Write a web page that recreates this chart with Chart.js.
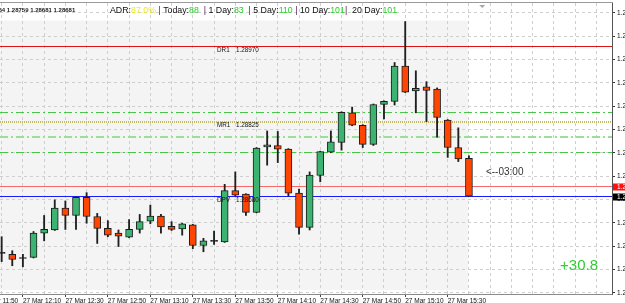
<!DOCTYPE html>
<html>
<head>
<meta charset="utf-8">
<title>EURUSD M5</title>
<script src="https://cdn.jsdelivr.net/npm/chart.js@4.4.1/dist/chart.umd.min.js"></script>
<style>
  html, body { margin: 0; padding: 0; background: #fff; overflow: hidden; }
  #box { width: 625px; height: 303px; }
</style>
</head>
<body>
<div id="box"><canvas id="chart" width="625" height="303"></canvas></div>
<script>
// 5 minute bars, 27 Mar
const barTimes = ['12:00','12:05','12:10','12:15','12:20','12:25','12:30','12:35','12:40','12:45',
  '12:50','12:55','13:00','13:05','13:10','13:15','13:20','13:25','13:30','13:35',
  '13:40','13:45','13:50','13:55','14:00','14:05','14:10','14:15','14:20','14:25',
  '14:30','14:35','14:40','14:45','14:50','14:55','15:00','15:05','15:10','15:15',
  '15:20','15:25','15:30','15:35','15:40'];
const opens = [1.28571,1.28569,1.28561,1.28563,1.28610,1.28616,1.28658,1.28644,1.28679,1.28642,
  1.28619,1.28610,1.28602,1.28617,1.28633,1.28643,1.28623,1.28618,1.28626,1.28586,
  1.28594,1.28593,1.28692,1.28685,1.28650,1.28776,1.28779,1.28772,1.28687,1.28621,
  1.28721,1.28766,1.28785,1.28842,1.28818,1.28781,1.28858,1.28864,1.28932,1.28884,
  1.28892,1.28888,1.28828,1.28775,1.28754];
const highs = [1.28603,1.28576,1.28569,1.28613,1.28644,1.28674,1.28672,1.28680,1.28688,1.28648,
  1.28634,1.28616,1.28636,1.28646,1.28664,1.28646,1.28632,1.28629,1.28627,1.28600,
  1.28614,1.28704,1.28728,1.28686,1.28775,1.28807,1.28806,1.28773,1.28695,1.28728,
  1.28768,1.28807,1.28844,1.28853,1.28819,1.28859,1.28865,1.28939,1.29018,1.28923,
  1.28902,1.28890,1.28829,1.28813,1.28759];
const lows = [1.28555,1.28547,1.28545,1.28562,1.28595,1.28615,1.28617,1.28617,1.28629,1.28590,
  1.28603,1.28584,1.28601,1.28610,1.28628,1.28610,1.28615,1.28606,1.28580,1.28574,
  1.28588,1.28592,1.28682,1.28644,1.28649,1.28741,1.28746,1.28682,1.28608,1.28616,
  1.28709,1.28765,1.28770,1.28817,1.28775,1.28779,1.28830,1.28857,1.28881,1.28842,
  1.28825,1.28795,1.28756,1.28748,1.28681];
const closes = [1.28571,1.28559,1.28561,1.28610,1.28617,1.28658,1.28644,1.28679,1.28642,1.28619,
  1.28606,1.28604,1.28617,1.28632,1.28643,1.28622,1.28617,1.28628,1.28586,1.28595,
  1.28594,1.28692,1.28683,1.28650,1.28774,1.28780,1.28772,1.28687,1.28621,1.28722,
  1.28767,1.28786,1.28843,1.28818,1.28781,1.28858,1.28864,1.28932,1.28882,1.28889,
  1.28885,1.28833,1.28775,1.28753,1.28681];

// time axis labels (every 20 min) and price ticks
const timeLabels = ['11:50','12:10','12:30','12:50','13:10','13:30','13:50','14:10','14:30','14:50','15:10','15:30'];
const labelDay = '27 Mar';
const priceTicks = [1.28495,1.28540,1.28585,1.28630,1.28675,1.28720,1.28765,1.28810,1.28855,1.28900,1.28945,1.28990,1.29035];

// pivot levels and other lines
const pivotNames = ['DR1', 'MR1', 'DPV'];
const pivotValues = [1.28970, 1.28825, 1.28680];
const bandLevels = [1.28843, 1.28798, 1.28767];
const askPrice = 1.28700;
const bidPrice = 1.28681;

// texts
const infoLine = '64 1.28759 1.28681 1.28681';
const adrParts = [['ADR:','t'],['87.0%','y'],[' | ','s'],['Today:','t'],['88','g'],['  | ','s'],['1 Day:','t'],['83','g'],
  ['  | ','s'],['5 Day:','t'],['110','g'],[' | ','s'],['10 Day:','t'],['101','g'],['|  ','s'],['20 Day:','t'],['101','g']];
const timerText = '<--03:00';
const pipsText = '+30.8';

const BULL = '#3cb371', BEAR = '#ff4500', EDGE = '#1c1c1c', WICK = '#202020';
const FONT = '"Liberation Sans", Arial, sans-serif';
const partColors = { t: '#111111', y: '#eeee10', s: '#5a205a', g: '#22d422' };

function barIndex(t) {
  const [h, m] = t.split(':').map(Number);
  const [h0, m0] = barTimes[0].split(':').map(Number);
  return ((h * 60 + m) - (h0 * 60 + m0)) / 5;
}
const labelAt = {};
timeLabels.forEach(t => { labelAt[barIndex(t)] = labelDay + ' ' + t; });

// horizontal level line across the plot, filled as rects so it stays crisp
function hline(ctx, a, py, color, width, dash, snap) {
  ctx.save();
  ctx.fillStyle = color;
  const h = Math.max(1, Math.round(width));
  const top = (snap || Math.floor)(py);
  if (!dash) {
    ctx.fillRect(a.left, top, a.right - a.left, h);
  } else {
    const period = dash.reduce((s, d) => s + d, 0);
    for (let x0 = a.left; x0 < a.right; x0 += period) {
      let xx = x0;
      for (let k = 0; k < dash.length; k += 2) {
        const w = Math.min(dash[k], a.right - xx);
        if (w > 0) ctx.fillRect(xx, top, w, h);
        xx += dash[k] + (dash[k + 1] || 0);
      }
    }
  }
  ctx.restore();
}

const overlay = {
  id: 'overlay',
  beforeDraw(chart) {
    const { ctx, scales: { x, y } } = chart;
    ctx.save();
    ctx.fillStyle = '#ffffff';
    ctx.fillRect(0, 0, chart.width, chart.height);
    // shaded session range behind the bars
    const x0 = x.getPixelForValue(-1), x1 = x.getPixelForValue(barTimes.length - 1.1);
    const y0 = y.getPixelForValue(1.29020), y1 = y.getPixelForValue(1.28500);
    ctx.fillStyle = '#f4f4f4';
    ctx.fillRect(x0, y0, x1 - x0, y1 - y0);
    ctx.restore();
  },
  beforeDatasetsDraw(chart) {
    const { ctx, chartArea: a, scales: { y } } = chart;
    hline(ctx, a, y.getPixelForValue(bandLevels[0]), '#46c846', 1, [8, 3, 2, 3], Math.round);
    hline(ctx, a, y.getPixelForValue(bandLevels[1]), '#9ade9a', 2, [8, 3, 2, 3], Math.round);
    hline(ctx, a, y.getPixelForValue(bandLevels[2]), '#46c846', 1, [8, 3, 2, 3], Math.round);
    hline(ctx, a, y.getPixelForValue(pivotValues[0]), '#dd1414', 1);
    hline(ctx, a, y.getPixelForValue(pivotValues[1]), '#c2b968', 2, [1, 1]);
    hline(ctx, a, y.getPixelForValue(askPrice), '#f26a6a', 1);
    hline(ctx, a, y.getPixelForValue(pivotValues[2]), '#1a1aff', 1);
  },
  afterDatasetsDraw(chart) {
    const { ctx, chartArea: a, scales: { x, y } } = chart;
    ctx.save();
    ctx.font = '6.3px ' + FONT;
    ctx.fillStyle = '#111';
    ctx.textBaseline = 'middle';
    const lx = x.getPixelForValue(20.28);
    pivotNames.forEach((n, i) => {
      const py = y.getPixelForValue(pivotValues[i]) + 3.5;
      ctx.fillText(n, lx, py);
      ctx.fillText(pivotValues[i].toFixed(5), lx + 19, py);
    });
    // bar timer
    ctx.font = '10px ' + FONT;
    ctx.fillStyle = '#333';
    ctx.fillText(timerText, x.getPixelForValue(45.6), y.getPixelForValue(1.28727));
    // pips
    ctx.font = '15px ' + FONT;
    ctx.fillStyle = '#33cc33';
    ctx.textAlign = 'right';
    ctx.fillText(pipsText, a.right - 14, a.bottom - 28);
    ctx.restore();
  },
  afterDraw(chart) {
    const { ctx, chartArea: a, scales: { x, y } } = chart;
    ctx.save();
    // top frame line
    ctx.fillStyle = '#9a9a9a';
    ctx.fillRect(0, Math.round(a.top) - 1, a.right + 1, 1);
    // price boxes on the right axis
    [[askPrice, '#ff1010'], [bidPrice, '#000000']].forEach(([p, c]) => {
      const py = Math.round(y.getPixelForValue(p)) + 1;
      ctx.fillStyle = c;
      ctx.fillRect(Math.round(a.right) + 1, py - 3.5, chart.width - a.right, 7);
      ctx.fillStyle = '#fff';
      ctx.font = '6.5px ' + FONT;
      ctx.textBaseline = 'middle';
      ctx.fillText(p.toFixed(5), a.right + 5, py);
    });
    // chart shift marker
    const sx = x.getPixelForValue(45.25);
    ctx.fillStyle = '#a8a8a8';
    ctx.beginPath();
    ctx.moveTo(sx - 3, a.top + 2);
    ctx.lineTo(sx + 3, a.top + 2);
    ctx.lineTo(sx, a.top + 5);
    ctx.closePath();
    ctx.fill();
    // info line
    ctx.textBaseline = 'middle';
    ctx.font = 'bold 6px ' + FONT;
    ctx.fillStyle = '#222';
    ctx.fillText(infoLine, -1.5, 10.5);
    // ADR header
    ctx.font = '8.8px ' + FONT;
    let hx = 110;
    adrParts.forEach(([s, k]) => {
      ctx.fillStyle = partColors[k];
      ctx.fillText(s, hx, 11);
      hx += ctx.measureText(s).width;
    });
    ctx.restore();
  }
};

const bodyData = barTimes.map((t, i) => ({ x: i, y: [opens[i], closes[i]] }));
const wickData = barTimes.map((t, i) => ({ x: i, y: [lows[i], highs[i]] }));

new Chart(document.getElementById('chart'), {
  type: 'bar',
  data: {
    datasets: [
      {
        label: 'body',
        data: bodyData,
        grouped: false,
        order: 0,
        barThickness: 7,
        minBarLength: 1,
        borderWidth: 1,
        borderSkipped: false,
        borderColor: EDGE,
        backgroundColor: c => {
          const i = c.dataIndex;
          if (closes[i] > opens[i]) return BULL;
          if (closes[i] < opens[i]) return BEAR;
          return EDGE;
        }
      },
      {
        label: 'wick',
        data: wickData,
        grouped: false,
        order: 1,
        barThickness: 1.2,
        borderWidth: 0,
        backgroundColor: WICK
      }
    ]
  },
  options: {
    responsive: false,
    animation: false,
    layout: { padding: { top: 3, left: 0, right: 0, bottom: 0 } },
    plugins: { legend: { display: false }, tooltip: { enabled: false } },
    scales: {
      x: {
        type: 'linear',
        min: -0.156,
        max: 57.47,
        offset: false,
        grid: {
          offset: false,
          color: '#cfcfcf',
          tickLength: 3,
          tickColor: c => (c.tick && labelAt[c.tick.value] && c.tick.value <= barTimes.length - 1) ? '#444' : 'rgba(0,0,0,0)'
        },
        border: { color: '#8a8a8a', dash: [3, 3] },
        ticks: {
          align: 'start',
          autoSkip: false,
          maxRotation: 0,
          padding: 0,
          color: '#111',
          font: { family: FONT, size: 6.5 },
          callback: v => (v <= barTimes.length - 1 && labelAt[v]) ? labelAt[v] : ''
        },
        afterBuildTicks: s => {
          const t = [];
          for (let v = -2; v <= 56; v += 2) t.push({ value: v });
          s.ticks = t;
        },
        afterFit: s => {
          s.height = 9;
          s.paddingLeft = 0; s.paddingRight = 0; s.paddingTop = 0; s.paddingBottom = 0;
        }
      },
      y: {
        position: 'right',
        min: 1.284925,
        max: 1.290538,
        grid: { color: '#cfcfcf', tickLength: 3, tickColor: '#333' },
        border: { color: '#555', dash: [3, 3] },
        ticks: {
          autoSkip: false,
          padding: 2,
          color: '#111',
          font: { family: FONT, size: 6.5 },
          callback: v => v.toFixed(5)
        },
        afterBuildTicks: s => { s.ticks = priceTicks.map(v => ({ value: v })); },
        afterFit: s => {
          s.width = 13;
          s.paddingLeft = 0; s.paddingRight = 0; s.paddingTop = 0; s.paddingBottom = 0;
        }
      }
    }
  },
  plugins: [overlay]
});
</script>
</body>
</html>
